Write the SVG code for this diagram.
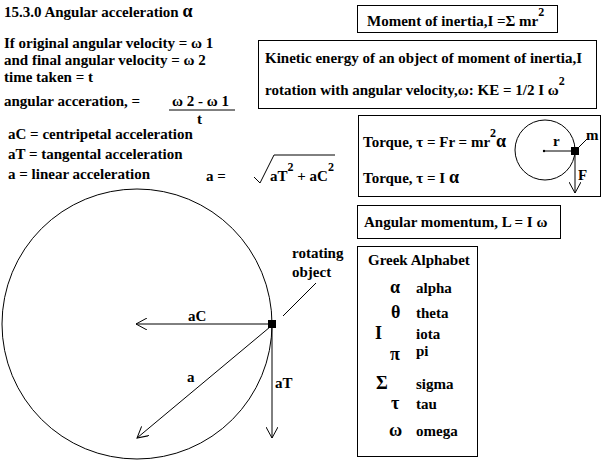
<svg xmlns="http://www.w3.org/2000/svg" width="605" height="473" viewBox="0 0 605 473" xml:space="preserve">
<defs>
<marker id="ah" viewBox="0 0 12 12" refX="11" refY="6" markerWidth="12" markerHeight="12" markerUnits="userSpaceOnUse" orient="auto"><path d="M0,0 L11,6 L0,12" fill="none" stroke="#000"/></marker>
</defs>
<rect width="605" height="473" fill="#fff"/>
<g font-family="'Liberation Serif', 'DejaVu Serif', serif" font-weight="bold" font-size="15" fill="#000" stroke="none">
<g id="left-text">
<text x="4" y="17">15.3.0 Angular acceleration  <tspan font-size="18">α</tspan></text>
<text x="4" y="48">If original angular velocity =  ω 1</text>
<text x="4" y="65">and final angular velocity =   ω 2</text>
<text x="4" y="82">time taken = t</text>
<text x="4" y="106">angular acceration,  =</text>
<text x="172" y="106">ω 2 - ω 1</text>
<text x="197" y="124">t</text>
<text x="8" y="139">aC = centripetal acceleration</text>
<text x="8" y="159">aT = tangental acceleration</text>
<text x="8" y="179">a = linear acceleration</text>
<text x="206" y="181">a  =</text>
<text x="270" y="181">aT<tspan font-size="12" dy="-10">2</tspan><tspan dy="10"> + aC</tspan><tspan font-size="12" dy="-10">2</tspan></text>
</g>
<g id="moment">
<rect x="357.500" y="5.500" width="200" height="27" fill="none" stroke="#000"/>
<text x="367" y="26">Moment of inertia,I =Σ mr<tspan font-size="12" dy="-10">2</tspan></text>
</g>
<g id="ke">
<rect x="258.500" y="40.500" width="338" height="68" fill="none" stroke="#000"/>
<text x="265" y="63">Kinetic energy of an object of moment of inertia,I</text>
<text x="265" y="95">rotation with angular velocity,ω: KE  = 1/2 I ω<tspan font-size="12" dy="-10">2</tspan></text>
</g>
<g id="torque">
<rect x="358.500" y="115.500" width="242" height="81" fill="none" stroke="#000"/>
<text x="363" y="147">Torque, τ = Fr = mr<tspan font-size="12" dy="-10">2</tspan><tspan dy="10" font-size="18">α</tspan></text>
<text x="363" y="183">Torque, τ = I <tspan font-size="18">α</tspan></text>
<circle cx="545" cy="150" r="30" fill="none" stroke="#000"/>
<circle cx="544" cy="151" r="1.200"/>
<line x1="544" y1="151" x2="572" y2="151" stroke="#000"/>
<rect x="571" y="147" width="8" height="8"/>
<text x="553" y="146">r</text>
<line x1="579" y1="147" x2="587" y2="139" stroke="#000"/>
<text x="586" y="140">m</text>
<line x1="575" y1="155" x2="575" y2="193" stroke="#000" marker-end="url(#ah)"/>
<text x="578" y="180">F</text>
</g>
<g id="angmom">
<rect x="357.500" y="205.500" width="203" height="33" fill="none" stroke="#000"/>
<text x="364" y="227">Angular momentum, L = I ω</text>
</g>
<g id="greek">
<rect x="357.500" y="246.500" width="120" height="210" fill="none" stroke="#000"/>
<text x="368" y="265">Greek Alphabet</text>
<text x="390" y="293" font-size="18">α</text><text x="416" y="293">alpha</text>
<text x="391" y="318" font-size="18">θ</text><text x="416" y="318">theta</text>
<text x="375" y="339" font-size="18">I</text><text x="416" y="339">iota</text>
<text x="390" y="360" font-size="18">π</text><text x="416" y="356">pi</text>
<text x="376" y="389" font-size="18">Σ</text><text x="416" y="389">sigma</text>
<text x="391" y="409" font-size="18">τ</text><text x="416" y="409">tau</text>
<text x="389" y="436" font-size="18">ω</text><text x="416" y="436">omega</text>
</g>
<g id="rotation">
<circle cx="137" cy="324" r="135" fill="none" stroke="#000"/>
<rect x="268" y="320" width="8" height="8"/>
<text x="292" y="258">rotating</text>
<text x="292" y="277">object</text>
<text x="188" y="321">aC</text>
<text x="187" y="382">a</text>
<text x="275" y="388">aT</text>
</g>
</g>
<g id="connectors" fill="none" stroke="#000">
<line x1="169" y1="110" x2="235" y2="110"/>
<path d="M254,177 L260,183 L274,155 L335,155"/>
<line x1="268" y1="324" x2="136" y2="324" marker-end="url(#ah)"/>
<line x1="270" y1="327" x2="137" y2="438" marker-end="url(#ah)"/>
<line x1="272" y1="328" x2="272" y2="438" marker-end="url(#ah)"/>
<line x1="283" y1="316" x2="316" y2="283"/>
</g>
</svg>
